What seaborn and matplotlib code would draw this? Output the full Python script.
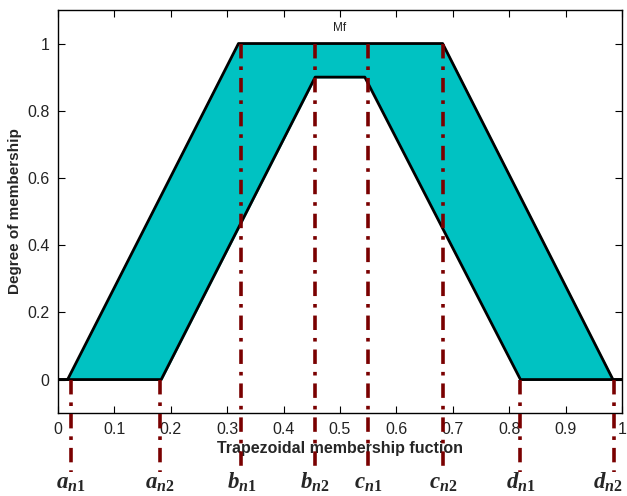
import numpy as np
import pandas as pd
import matplotlib
matplotlib.use("Agg")
import matplotlib.pyplot as plt
import matplotlib.transforms as mtransforms
import seaborn as sns

# upper and lower trapezoid breakpoints (a, b, c, d)
upper_pts = [0.017, 0.32, 0.682, 0.984]
upper_height = 1.0
lower_pts = [0.183, 0.456, 0.544, 0.82]
lower_height = 0.9

# dashed guide lines and their labels
guide_x = [0.023, 0.181, 0.325, 0.456, 0.55, 0.683, 0.82, 0.986]
guide_top = [0, 0, 1, 1, 1, 1, 0, 0]
guide_labels = [r"$a_{n1}$", r"$a_{n2}$", r"$b_{n1}$", r"$b_{n2}$",
                r"$c_{n1}$", r"$c_{n2}$", r"$d_{n1}$", r"$d_{n2}$"]

x_ticks = [0, 0.1, 0.2, 0.3, 0.4, 0.5, 0.6, 0.7, 0.8, 0.9, 1]
y_ticks = [0, 0.2, 0.4, 0.6, 0.8, 1]

sns.set_style("ticks")
plt.rcParams["font.family"] = ["Liberation Sans", "DejaVu Sans"]
plt.rcParams["mathtext.fontset"] = "custom"
plt.rcParams["mathtext.it"] = "Liberation Serif:italic:bold"
plt.rcParams["mathtext.rm"] = "Liberation Serif:bold"
plt.rcParams["mathtext.bf"] = "Liberation Serif:bold"


def trap(pts, h):
    xs = [0] + list(pts) + [1]
    ys = [0, 0, h, h, 0, 0]
    return xs, ys


ux, uy = trap(upper_pts, upper_height)
lx, ly = trap(lower_pts, lower_height)
grid = np.unique(np.array(ux + lx))
up_vals = np.interp(grid, ux, uy)
lo_vals = np.interp(grid, lx, ly)

fig = plt.figure(figsize=(6.27, 4.96), dpi=100)
ax = fig.add_axes([0.0925, 0.167, 0.8995, 0.813])

ax.fill_between(grid, lo_vals, up_vals, color="#00c2c2", zorder=1)

df_up = pd.DataFrame({"x": ux, "y": uy})
df_lo = pd.DataFrame({"x": lx, "y": ly})
sns.lineplot(data=df_up, x="x", y="y", color="black", lw=2, sort=False, ax=ax, zorder=2)
sns.lineplot(data=df_lo, x="x", y="y", color="black", lw=2, sort=False, ax=ax, zorder=2)

for i, (gx, gt, lab) in enumerate(zip(guide_x, guide_top, guide_labels)):
    ax.plot([gx, gx], [gt, -0.275], color="#7a0000", lw=2.6,
            linestyle=(0, (4, 2.2, 1, 2.2)), clip_on=False, zorder=5)
    tr = ax.transData
    if i == len(guide_x) - 1:
        # keep the last label inside the figure edge
        tr = tr + mtransforms.ScaledTranslation(-6 / 100, 0, fig.dpi_scale_trans)
    ax.text(gx, -0.305, lab, ha="center", va="center", fontsize=16.5,
            transform=tr, clip_on=False)

ax.set_xlim(0, 1)
ax.set_ylim(-0.1, 1.1)
ax.set_xticks(x_ticks)
ax.set_xticklabels([f"{t:g}" for t in x_ticks])
ax.set_yticks(y_ticks)
ax.set_yticklabels([f"{t:g}" for t in y_ticks])
ax.tick_params(direction="in", top=True, right=True, length=5, width=0.8,
               labelsize=11.5, colors="black", labelcolor="#222222", pad=6)
for s in ax.spines.values():
    s.set_linewidth(1)
    s.set_color("black")

ax.set_xlabel("Trapezoidal membership fuction", fontsize=11.5, fontweight="bold", labelpad=3)
ax.set_ylabel("Degree of membership", fontsize=11, fontweight="bold", labelpad=4)
ax.text(0.5, 1.047, "Mf", fontsize=8.5, ha="center", va="center", color="#222222")

fig.savefig("out.png", dpi=100)
